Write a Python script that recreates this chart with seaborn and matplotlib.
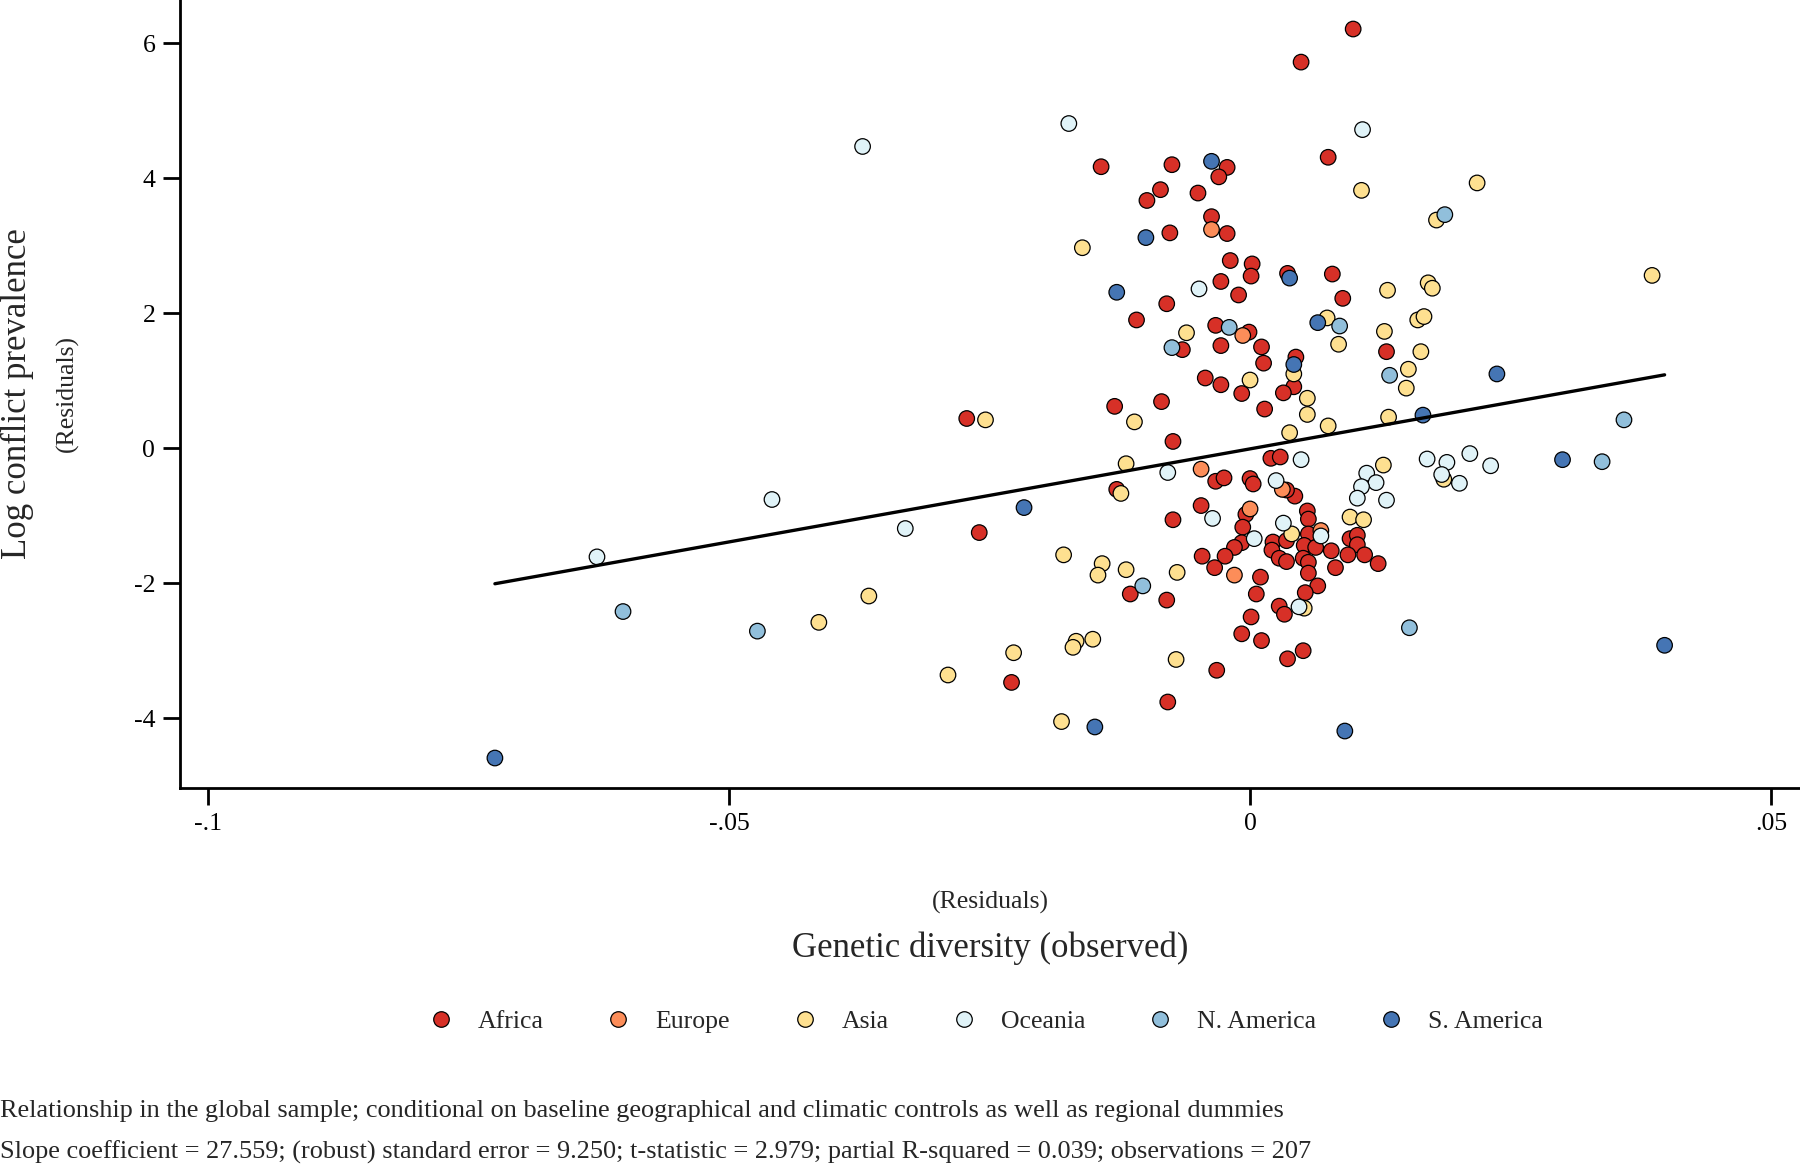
import numpy as np
import pandas as pd
import matplotlib
matplotlib.use("Agg")
import matplotlib.pyplot as plt
import seaborn as sns

# --- residual values ---
africa_x = [0.0099, 0.0049, 0.0075, -0.0143, -0.0075, -0.0022, -0.0030, -0.0086, -0.0099, -0.0050,
            -0.0037, -0.0022, -0.0077, -0.0019, 0.0002, 0.0001, 0.0036, 0.0079, -0.0028, -0.0011,
            0.0089, -0.0080, -0.0109, -0.0033, -0.0001, -0.0065, -0.0028, 0.0011, 0.0131, 0.0044,
            0.0013, -0.0043, -0.0028, -0.0008, 0.0042, 0.0032, -0.0130, -0.0085, 0.0014, -0.0074,
            0.0020, 0.0029, -0.0033, -0.0025, 0.0000, 0.0003, 0.0043, -0.0128, -0.0047, 0.0055,
            0.0056, -0.0074, 0.0035, -0.0004, -0.0007, 0.0056, 0.0096, 0.0103, 0.0103, -0.0008,
            0.0022, 0.0035, 0.0052, 0.0063, -0.0015, -0.0024, -0.0046, 0.0021, 0.0028, 0.0035,
            0.0051, 0.0056, 0.0078, 0.0094, 0.0110, 0.0123, 0.0082, -0.0034, 0.0056, 0.0010,
            0.0065, 0.0053, 0.0006, 0.0028, 0.0033, 0.0001, -0.0008, 0.0011, 0.0051, 0.0036,
            -0.0032, -0.0079, -0.0115, -0.0080, -0.0272, -0.0260, -0.0229]
africa_y = [6.21, 5.72, 4.31, 4.17, 4.20, 4.16, 4.02, 3.83, 3.67, 3.78,
            3.43, 3.18, 3.19, 2.78, 2.73, 2.55, 2.59, 2.58, 2.47, 2.27,
            2.22, 2.14, 1.90, 1.82, 1.72, 1.46, 1.52, 1.50, 1.43, 1.35,
            1.26, 1.04, 0.94, 0.81, 0.91, 0.82, 0.62, 0.69, 0.58, 0.10,
            -0.15, -0.13, -0.49, -0.44, -0.45, -0.53, -0.71, -0.61, -0.85, -0.93,
            -1.05, -1.06, -0.62, -0.98, -1.17, -1.27, -1.34, -1.29, -1.43, -1.40,
            -1.39, -1.37, -1.44, -1.47, -1.47, -1.60, -1.60, -1.51, -1.63, -1.68,
            -1.63, -1.69, -1.52, -1.58, -1.58, -1.71, -1.77, -1.77, -1.85, -1.91,
            -2.04, -2.14, -2.16, -2.34, -2.46, -2.50, -2.75, -2.85, -3.00, -3.12,
            -3.29, -3.76, -2.16, -2.25, 0.44, -1.25, -3.47]

europe_x = [-0.0037, -0.0007, -0.0047, 0.0031, 0.0000, 0.0068, -0.0015]
europe_y = [3.24, 1.67, -0.31, -0.61, -0.90, -1.22, -1.88]

asia_x = [0.0107, -0.0161, 0.0179, 0.0132, 0.0171, 0.0175, 0.0074, 0.0161, 0.0167, -0.0061,
          0.0129, 0.0085, 0.0164, 0.0152, 0.0150, 0.0042, 0.0000, 0.0055, 0.0055, -0.0111,
          0.0075, 0.0038, 0.0133, -0.0119, 0.0128, -0.0124, 0.0096, 0.0109, 0.0040, 0.0052,
          -0.0181, -0.0179, -0.0142, -0.0146, -0.0119, -0.0070, -0.0167, -0.0170, -0.0151, -0.0071,
          0.0218, 0.0386, 0.0186, -0.0254, -0.0366, -0.0414, -0.0290, -0.0227]
asia_y = [3.82, 2.97, 3.38, 2.34, 2.45, 2.37, 1.93, 1.90, 1.95, 1.71,
          1.73, 1.54, 1.43, 1.17, 0.89, 1.10, 1.01, 0.74, 0.50, 0.39,
          0.33, 0.23, 0.46, -0.23, -0.25, -0.67, -1.02, -1.06, -1.27, -2.37,
          -4.05, -1.58, -1.71, -1.88, -1.80, -1.84, -2.86, -2.95, -2.83, -3.13,
          3.93, 2.56, -0.46, 0.42, -2.19, -2.58, -3.36, -3.03]

oceania_x = [-0.0174, 0.0108, -0.0049, -0.0079, 0.0049, 0.0170, 0.0189, 0.0211, 0.0231, 0.0184,
             0.0201, 0.0112, 0.0121, 0.0107, 0.0103, 0.0131, 0.0025, -0.0036, 0.0032, 0.0068,
             0.0004, 0.0047, -0.0627, -0.0372, -0.0459, -0.0331]
oceania_y = [4.81, 4.72, 2.36, -0.36, -0.17, -0.16, -0.21, -0.08, -0.26, -0.39,
             -0.52, -0.37, -0.51, -0.57, -0.74, -0.77, -0.48, -1.04, -1.11, -1.30,
             -1.34, -2.35, -1.61, 4.47, -0.76, -1.19]

namerica_x = [0.0187, 0.0086, -0.0020, -0.0075, 0.0134, -0.0103, 0.0153, 0.0359, 0.0338, -0.0602, -0.0473]
namerica_y = [3.46, 1.81, 1.79, 1.49, 1.08, -2.04, -2.66, 0.42, -0.20, -2.42, -2.71]

samerica_x = [-0.0037, -0.0100, 0.0038, -0.0128, 0.0065, 0.0042, 0.0166, 0.0237, 0.0300, 0.0398,
              -0.0725, -0.0217, -0.0149, 0.0091]
samerica_y = [4.25, 3.12, 2.52, 2.31, 1.86, 1.24, 0.49, 1.10, -0.17, -2.92,
              -4.59, -0.88, -4.13, -4.19]

REGIONS = ["Africa", "Europe", "Asia", "Oceania", "N. America", "S. America"]
COLORS = ["#d73027", "#fc8d59", "#fee090", "#e0f3f8", "#91bfdb", "#4575b4"]

SLOPE = 27.559
INTERCEPT = -0.01

x_ticks = [-0.1, -0.05, 0, 0.05]
x_tick_labels = ["-.1", "-.05", "0", ".05"]
y_ticks = [-4, -2, 0, 2, 4, 6]
y_tick_labels = ["-4", "-2", "0", "2", "4", "6"]

NOTE_1 = ("Relationship in the global sample; conditional on baseline geographical "
          "and climatic controls as well as regional dummies")
NOTE_2 = ("Slope coefficient = 27.559; (robust) standard error = 9.250; t-statistic = 2.979; "
          "partial R-squared = 0.039; observations = 207")

# --- build the frame (Africa drawn first, S. America last / on top) ---
frames = []
for name, xs, ys in zip(REGIONS,
                        [africa_x, europe_x, asia_x, oceania_x, namerica_x, samerica_x],
                        [africa_y, europe_y, asia_y, oceania_y, namerica_y, samerica_y]):
    frames.append(pd.DataFrame({"x": xs, "y": ys, "region": name}))
df = pd.concat(frames, ignore_index=True)

sns.set_theme(style="ticks")
plt.rcParams["font.family"] = ["Liberation Serif", "DejaVu Serif"]

fig = plt.figure(figsize=(18, 11.67), dpi=100)
ax = fig.add_axes([0.1002, 0.325, 0.8998, 0.675])

sns.scatterplot(data=df, x="x", y="y", hue="region", hue_order=REGIONS,
                palette=dict(zip(REGIONS, COLORS)), s=125, edgecolor="black",
                linewidth=0.9, ax=ax, zorder=2)

# fitted line over the range of the data
fit_x = np.array([df["x"].min(), df["x"].max()])
sns.lineplot(x=fit_x, y=SLOPE * fit_x + INTERCEPT, color="black", linewidth=2.4, ax=ax, zorder=3)

ax.set_xlim(-0.1027, 0.0528)
ax.set_ylim(-5.03, 6.64)
ax.set_xticks(x_ticks)
ax.set_xticklabels(x_tick_labels)
ax.set_yticks(y_ticks)
ax.set_yticklabels(y_tick_labels)
ax.tick_params(length=12, width=2, labelsize=18.5, pad=6, colors="black")
ax.set_xlabel("")
ax.set_ylabel("")
sns.despine(ax=ax)
for side in ["left", "bottom"]:
    ax.spines[side].set_linewidth(2)
    ax.spines[side].set_color("black")

sns.move_legend(ax, "center", bbox_to_anchor=(0.493, -0.297), ncol=6, title=None,
                frameon=False, fontsize=18.5, columnspacing=1.9, handletextpad=0.45)

# axis titles
fig.text(17 / 1800, 1 - 394 / 1167, "Log conflict prevalence", rotation=90,
         ha="center", va="center", fontsize=25)
fig.text(67 / 1800, 1 - 394 / 1167, "(Residuals)", rotation=90,
         ha="center", va="center", fontsize=18.5)
fig.text(990 / 1800, 1 - 902 / 1167, "(Residuals)", ha="center", va="center", fontsize=18.5)
fig.text(990 / 1800, 1 - 948 / 1167, "Genetic diversity (observed)", ha="center",
         va="center", fontsize=25)

# notes
fig.text(0.0, 1 - 1111 / 1167, NOTE_1, ha="left", va="center", fontsize=18.9)
fig.text(0.0, 1 - 1152 / 1167, NOTE_2, ha="left", va="center", fontsize=18.9)

fig.savefig("out.png", dpi=100)
